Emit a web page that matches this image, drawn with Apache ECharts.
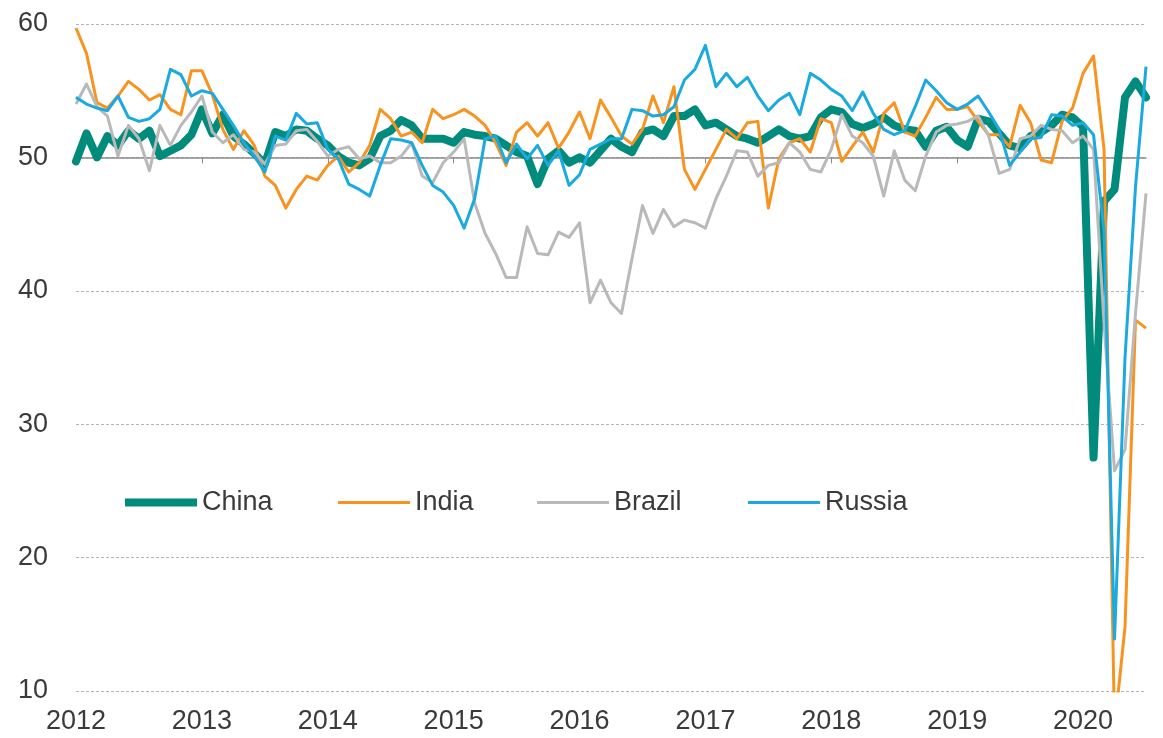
<!DOCTYPE html>
<html>
<head>
<meta charset="utf-8">
<title>PMI</title>
<script src="https://cdn.jsdelivr.net/npm/echarts@6/dist/echarts.min.js"></script>
<style>
  html, body { margin: 0; padding: 0; background: #fff; }
  #main { width: 1163px; height: 738px; }
</style>
</head>
<body>
<div id="main"></div>
<script>
// monthly points, Jan 2012 .. Jul 2020
var years = ['2012', '2013', '2014', '2015', '2016', '2017', '2018', '2019', '2020'];
var lastYearMonths = 7;
var seriesNames = ['China', 'India', 'Brazil', 'Russia'];

var china = [
  49.7, 51.8, 50.0, 51.6, 50.9, 52.0, 51.4, 52.0, 50.1, 50.5, 50.9, 51.7,
  53.6, 51.8, 53.2, 51.6, 51.0, 50.3, 49.5, 51.9, 51.6, 52.1, 52.0, 51.4,
  50.9, 50.1, 49.6, 49.4, 49.9, 51.6, 52.0, 52.8, 52.4, 51.4, 51.4, 51.4,
  51.1, 51.9, 51.7, 51.6, 51.4, 50.9, 50.4, 50.1, 48.0, 49.9, 50.5, 49.6,
  50.0, 49.6, 50.5, 51.4, 50.8, 50.4, 51.9, 52.1, 51.6, 53.1, 53.1, 53.6,
  52.4, 52.6, 52.1, 51.6, 51.4, 51.1, 51.6, 52.1, 51.6, 51.4, 51.6, 53.0,
  53.6, 53.4, 52.5, 52.2, 52.5, 53.0, 52.4, 52.1, 52.0, 50.8, 52.0, 52.3,
  51.3, 50.8, 52.9, 52.7, 51.8, 50.9, 50.7, 51.6, 51.9, 52.4, 53.2, 53.0,
  52.3, 27.5, 46.7, 47.6, 54.5, 55.7, 54.5
];
var india = [
  59.7, 57.8, 54.1, 53.7, 54.6, 55.7, 55.1, 54.3, 54.7, 53.6, 53.2, 56.5,
  56.5, 54.7, 52.1, 50.6, 52.0, 50.9, 48.6, 47.9, 46.2, 47.6, 48.6, 48.3,
  49.4, 50.1, 48.9, 49.6, 50.9, 53.6, 52.9, 51.6, 51.9, 51.1, 53.6, 52.9,
  53.2, 53.6, 53.1, 52.4, 51.1, 49.4, 51.9, 52.6, 51.6, 52.6, 50.7, 51.9,
  53.4, 51.4, 54.3, 53.0, 51.6, 51.0, 52.1, 54.6, 52.6, 55.3, 49.1, 47.6,
  49.1, 50.6, 52.1, 51.4, 52.6, 52.7, 46.2, 49.9, 51.1, 51.4, 50.4, 52.9,
  52.6, 49.7, 50.8, 51.9, 50.4, 53.3, 54.1, 51.9, 51.6, 53.0, 54.5, 53.6,
  53.6, 53.8, 52.7, 51.7, 51.7, 50.8, 53.9, 52.6, 49.8, 49.6, 52.7, 53.7,
  56.3, 57.6, 50.6, 7.2, 14.8, 37.8, 37.2
];
var brazil = [
  54.0, 55.5, 53.8, 53.1, 50.1, 52.4, 51.4, 49.0, 52.4, 50.9, 52.4, 53.4,
  54.6, 51.9, 51.1, 51.7, 50.6, 50.4, 49.5, 50.9, 51.0, 52.0, 52.1, 51.2,
  50.1, 50.6, 50.8, 49.9, 50.1, 49.6, 49.6, 50.1, 51.1, 48.6, 48.1, 49.6,
  50.4, 51.4, 46.6, 44.3, 42.8, 41.0, 41.0, 44.8, 42.8, 42.7, 44.4, 44.0,
  45.1, 39.1, 40.8, 39.1, 38.3, 42.4, 46.4, 44.3, 46.1, 44.8, 45.3, 45.1,
  44.7, 46.9, 48.6, 50.5, 50.4, 48.6, 49.4, 49.6, 51.1, 50.4, 49.1, 48.9,
  50.6, 53.2, 51.6, 51.1, 50.1, 47.1, 50.5, 48.3, 47.5, 50.1, 51.9, 52.4,
  52.5, 52.7, 53.1, 51.6, 48.8, 49.1, 51.4, 51.6, 52.4, 52.1, 52.0, 51.1,
  51.6, 50.6, 37.6, 26.5, 28.1, 38.3, 47.3
];
var russia = [
  54.5, 54.0, 53.7, 53.5, 54.6, 53.0, 52.7, 52.9, 53.6, 56.6, 56.2, 54.6,
  55.0, 54.8, 53.6, 52.4, 51.1, 50.1, 48.9, 51.6, 51.3, 53.3, 52.5, 52.6,
  50.6, 49.9, 48.0, 47.6, 47.1, 49.4, 51.4, 51.3, 51.1, 49.4, 47.9, 47.4,
  46.4, 44.7, 46.9, 51.4, 51.6, 49.6, 51.0, 49.9, 50.9, 49.4, 50.5, 47.9,
  48.7, 50.6, 51.0, 51.4, 51.4, 53.6, 53.5, 53.1, 53.2, 53.8, 55.8, 56.6,
  58.4, 55.3, 56.3, 55.3, 56.0, 54.6, 53.5, 54.3, 54.8, 53.2, 56.3, 55.8,
  55.1, 54.6, 53.5, 54.9, 53.3, 52.1, 51.7, 52.0, 53.8, 55.8, 55.0, 54.1,
  53.6, 54.0, 54.6, 53.4, 52.1, 49.4, 50.4, 51.4, 51.5, 53.2, 53.1, 52.4,
  52.6, 51.7, 44.5, 13.9, 35.0, 47.8, 56.8
];

var months = [];
years.forEach(function (y, k) {
  var n = k === years.length - 1 ? lastYearMonths : 12;
  for (var m = 1; m <= n; m++) {
    months.push(y + '-' + (m < 10 ? '0' + m : m));
  }
});

var font = 'Liberation Sans, Arial, sans-serif';
var textColor = '#3a3a3a';
var colors = ['#008b7c', '#f7931e', '#b9b9b9', '#1aaadf'];
var lineWidths = [8, 3, 3, 3];
var legendLeft = [120, 333, 532, 743];

var myChart = echarts.init(document.getElementById('main'), null, { renderer: 'canvas' });

function yearTick(index) {
  return index % 12 === 0;
}

// one legend per item so each sits where the original has it
var legends = seriesNames.map(function (name, i) {
  var h = lineWidths[i];
  return {
    left: legendLeft[i],
    top: 484,
    itemWidth: 72,
    itemHeight: 26,
    symbolKeepAspect: true,
    textStyle: { fontFamily: font, fontSize: 27, color: textColor },
    data: [{
      name: name,
      icon: 'path://M0,0h72v' + h + 'h-72z'
    }]
  };
});

myChart.setOption({
  animation: false,
  color: colors,
  grid: {
    left: 76,
    right: 17,
    top: 24,
    bottom: 47
  },
  legend: legends,
  xAxis: [{
    type: 'category',
    data: months,
    boundaryGap: false,
    axisLine: { show: false },
    axisTick: { show: false },
    splitLine: { show: false },
    axisLabel: {
      interval: yearTick,
      margin: 17,
      fontFamily: font,
      fontSize: 27,
      color: textColor,
      formatter: function (v) {
        return v.slice(0, 4);
      }
    }
  }, {
    // the solid line at 50, with small year ticks
    type: 'category',
    data: months,
    boundaryGap: false,
    position: 'bottom',
    offset: -533.6,
    axisLine: { show: true, lineStyle: { color: '#8c8c8c', width: 1.5 } },
    axisTick: { show: true, interval: yearTick, length: 6, lineStyle: { color: '#8c8c8c' } },
    axisLabel: { show: false },
    splitLine: { show: false }
  }],
  yAxis: {
    type: 'value',
    min: 10,
    max: 60,
    interval: 10,
    axisLine: { show: false },
    axisTick: { show: false },
    axisLabel: {
      margin: 28,
      fontFamily: font,
      fontSize: 27,
      color: textColor
    },
    splitLine: {
      lineStyle: { color: '#b4b4b4', type: [3, 2], width: 1 }
    }
  },
  series: [
    { name: 'China', type: 'line', data: china, symbol: 'none',
      lineStyle: { width: lineWidths[0], cap: 'round', join: 'round' } },
    { name: 'India', type: 'line', data: india, symbol: 'none',
      lineStyle: { width: lineWidths[1], join: 'round' } },
    { name: 'Brazil', type: 'line', data: brazil, symbol: 'none',
      lineStyle: { width: lineWidths[2], join: 'round' } },
    { name: 'Russia', type: 'line', data: russia, symbol: 'none',
      lineStyle: { width: lineWidths[3], join: 'round' } }
  ]
});
</script>
</body>
</html>
